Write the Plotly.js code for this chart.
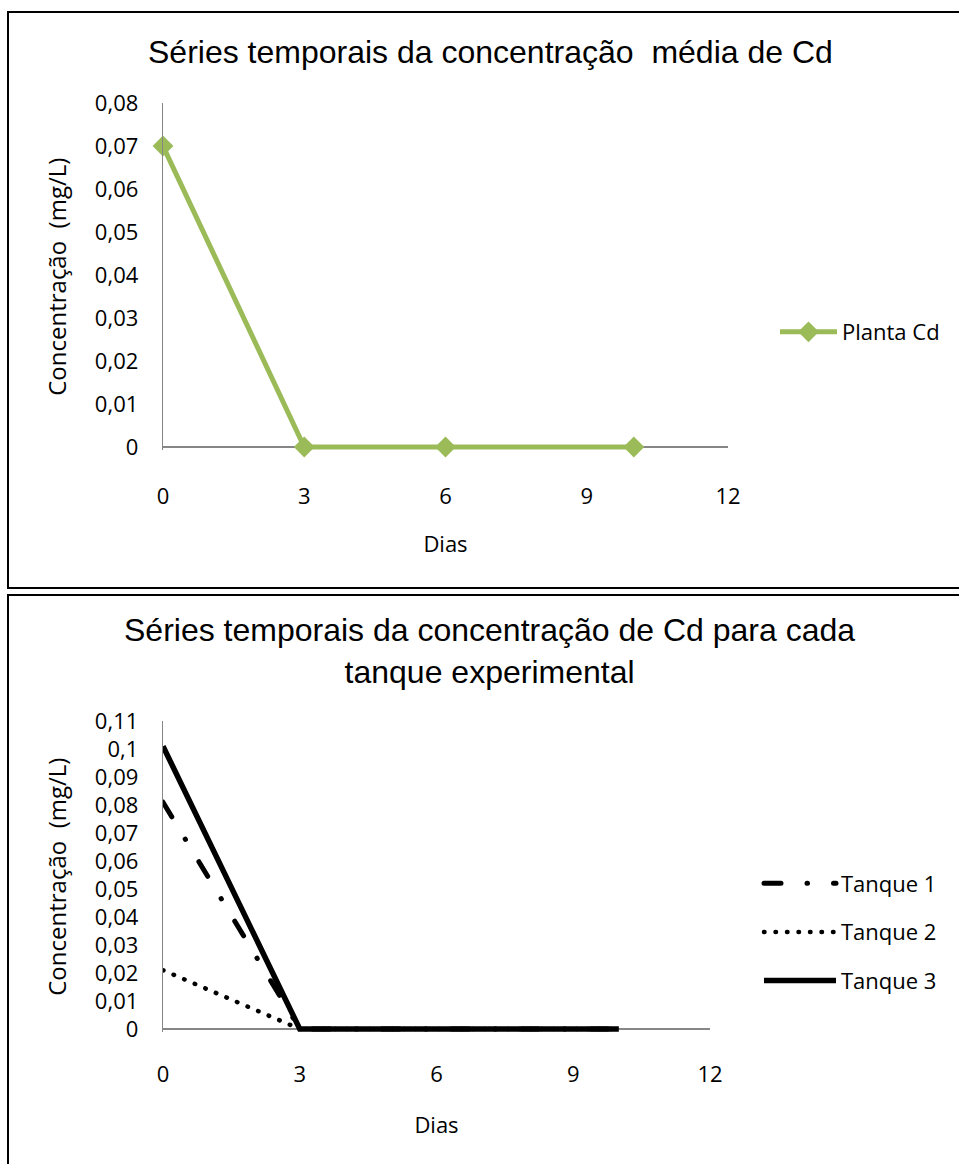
<!DOCTYPE html>
<html>
<head>
<meta charset="utf-8">
<script src="https://cdn.plot.ly/plotly-3.0.1.min.js"></script>
<style>
  html, body { margin: 0; padding: 0; background: #fff; }
  #chart { width: 959px; height: 1164px; }
</style>
</head>
<body>
<div id="chart"></div>
<script>
// Sampling days
const days = [0, 3, 6, 10];

// Mean Cd concentration in the plant (mg/L)
const plantaCd = [0.07, 0, 0, 0];

// Cd concentration per experimental tank (mg/L)
const tanque1 = [0.081, 0, 0, 0];
const tanque2 = [0.021, 0, 0, 0];
const tanque3 = [0.101, 0, 0, 0];

const xTicks = [0, 3, 6, 9, 12];

const W = 959, H = 1164;
const px = v => v / W;
const py = v => 1 - v / H;

const FONT = 'Open Sans, Noto Sans, sans-serif';
const TITLE_FONT = 'Liberation Sans, Arial, sans-serif';
const AXIS_GREY = '#868686';

const traces = [
  {
    x: days, y: plantaCd, name: 'Planta Cd', type: 'scatter', mode: 'lines+markers',
    line: { color: '#9BBB59', width: 5 },
    marker: { symbol: 'diamond', size: 16, color: '#9BBB59' },
    cliponaxis: false,
    xaxis: 'x', yaxis: 'y', legend: 'legend'
  },
  {
    x: days, y: tanque1, name: 'Tanque 1', type: 'scatter', mode: 'lines',
    line: { color: '#000', width: 5, dash: '17px,26px,0.5px,26px' },
    xaxis: 'x2', yaxis: 'y2', legend: 'legend2', legendgroup: 'g1'
  },
  {
    x: days, y: tanque2, name: 'Tanque 2', type: 'scatter', mode: 'lines',
    line: { color: '#000', width: 4.5, dash: '0.5px,11px' },
    xaxis: 'x2', yaxis: 'y2', legend: 'legend2', legendgroup: 'g2'
  },
  {
    x: days, y: tanque3, name: 'Tanque 3', type: 'scatter', mode: 'lines',
    line: { color: '#000', width: 5.5 },
    xaxis: 'x2', yaxis: 'y2', legend: 'legend2', legendgroup: 'g3'
  }
];

// The value axis starts a hair below zero so the lines lying on zero are not
// cut in half by the plot clip; the zero line then serves as the day axis.
function xAxis(domain, labelGap, titleGap) {
  return {
    domain: domain, range: [0, 12], tickvals: xTicks, ticktext: xTicks.map(String),
    showline: false, showgrid: false, zeroline: false, ticks: '',
    ticklabelstandoff: labelGap,
    tickfont: { family: FONT, size: 22, color: '#000' },
    title: { text: 'Dias', standoff: titleGap, font: { family: FONT, size: 22, color: '#000' } },
    fixedrange: true
  };
}
function yAxis(domain, bottom, top) {
  return {
    domain: domain, range: [bottom, top], dtick: 0.01, tick0: 0,
    showline: true, linecolor: AXIS_GREY, linewidth: 1.3,
    showgrid: false, zeroline: true, zerolinecolor: AXIS_GREY, zerolinewidth: 1.3,
    ticks: '', ticklabelstandoff: 19,
    tickfont: { family: FONT, size: 22, color: '#000' },
    title: { text: 'Concentração\u00a0 (mg/L)', standoff: 21, font: { family: FONT, size: 24, color: '#000' } },
    fixedrange: true
  };
}

// pixel scales: top 344 px per 0.08, bottom 308 px per 0.11
const topLow = -0.0008, botLow = -0.0012;
const topPad = -topLow * 344 / 0.08;
const botPad = -botLow * 308 / 0.11;

const layout = {
  width: W, height: H,
  margin: { l: 0, r: 0, t: 0, b: 0 },
  paper_bgcolor: '#fff', plot_bgcolor: '#fff',
  separators: ',.',
  font: { family: FONT, size: 22, color: '#000' },
  showlegend: true,
  xaxis: xAxis([px(163), px(728)], 31, 27),
  yaxis: yAxis([py(447 + topPad), py(103)], topLow, 0.08),
  xaxis2: Object.assign(xAxis([px(163), px(710)], 27, 30), { anchor: 'y2' }),
  yaxis2: Object.assign(yAxis([py(1029 + botPad), py(721)], botLow, 0.11), { anchor: 'x2' }),
  legend: {
    x: px(775), y: py(332), xanchor: 'left', yanchor: 'middle',
    itemwidth: 57, bgcolor: 'rgba(0,0,0,0)',
    font: { family: FONT, size: 22, color: '#000' }
  },
  legend2: {
    x: px(759), y: py(932), xanchor: 'left', yanchor: 'middle',
    itemwidth: 72, tracegroupgap: 17, traceorder: 'grouped', bgcolor: 'rgba(0,0,0,0)',
    font: { family: FONT, size: 22, color: '#000' }
  },
  annotations: [
    {
      text: 'Séries temporais da concentração\u00a0 média de Cd',
      xref: 'paper', yref: 'paper', x: px(490), y: py(52),
      xanchor: 'center', yanchor: 'middle', showarrow: false,
      font: { family: TITLE_FONT, size: 32, color: '#000' }
    },
    {
      text: 'Séries temporais da concentração de Cd para cada<br>tanque experimental',
      xref: 'paper', yref: 'paper', x: px(489), y: py(651),
      xanchor: 'center', yanchor: 'middle', showarrow: false,
      font: { family: TITLE_FONT, size: 32, color: '#000' }
    }
  ],
  shapes: [
    {
      type: 'rect', xref: 'paper', yref: 'paper',
      x0: px(8), x1: 1.05, y0: py(588), y1: py(12),
      line: { color: '#000', width: 2 }
    },
    {
      type: 'rect', xref: 'paper', yref: 'paper',
      x0: px(8), x1: 1.05, y0: -0.05, y1: py(595),
      line: { color: '#000', width: 2 }
    }
  ]
};

Plotly.newPlot('chart', traces, layout, { displayModeBar: false, staticPlot: true }).then(() => {
  // dotted / dash-dot strokes use round caps so the dots come out round
  document.querySelectorAll('path.js-line').forEach(p => {
    const d = p.style.strokeDasharray;
    if (d && d !== 'none' && d !== '') p.style.strokeLinecap = 'round';
  });
});
</script>
</body>
</html>
